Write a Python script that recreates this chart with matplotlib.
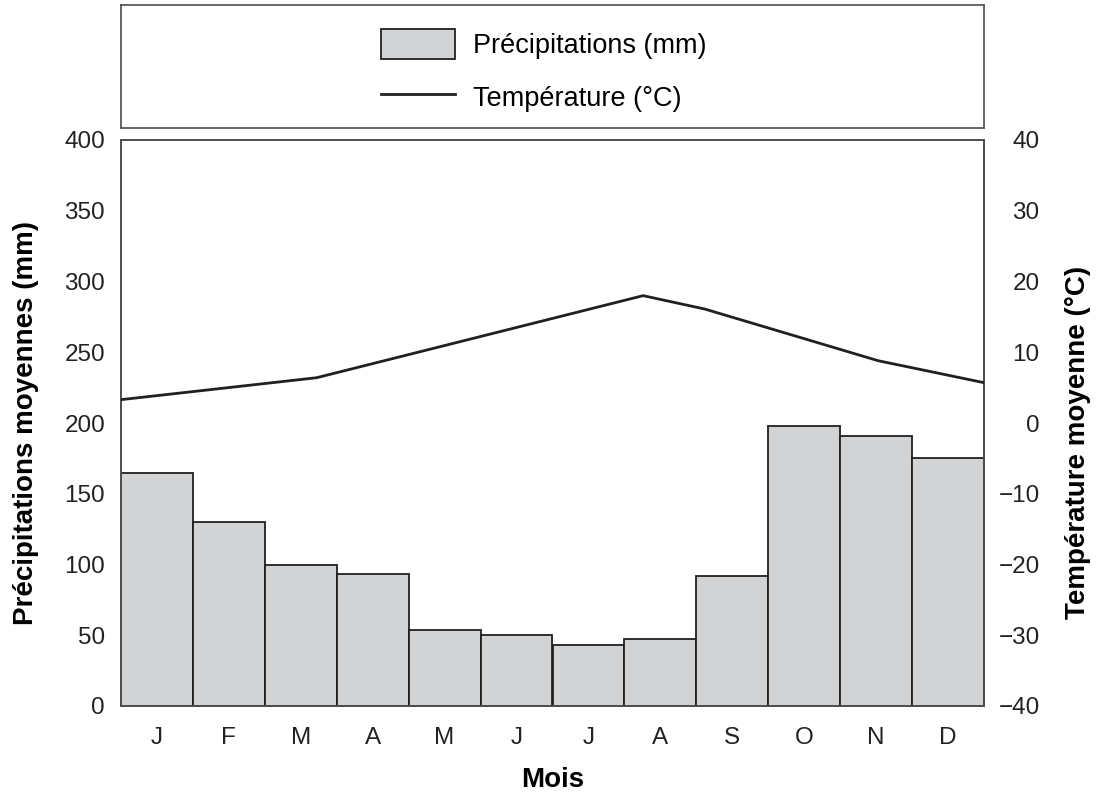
import matplotlib
matplotlib.use("Agg")
import matplotlib.pyplot as plt
from matplotlib.patches import Patch
from matplotlib.lines import Line2D
import numpy as np

months = ["J", "F", "M", "A", "M", "J", "J", "A", "S", "O", "N", "D"]
precip = [165, 130, 100, 93, 54, 50, 43, 47, 92, 198, 191, 175]
# temperature line vertices (position in month units, value in °C)
temp_x = [-0.5, 2.22, 6.76, 7.62, 10.03, 11.5]
temp_y = [3.3, 6.4, 18.0, 16.1, 8.8, 5.7]
left_ticks = [0, 50, 100, 150, 200, 250, 300, 350, 400]
right_ticks = [-40, -30, -20, -10, 0, 10, 20, 30, 40]

W, H = 1099, 797
plt.rcParams['font.family'] = ['Liberation Sans', 'DejaVu Sans']
fig = plt.figure(figsize=(W / 100, H / 100), dpi=100)

dark = "#231f20"
spine_c = "#4d4d4d"
tick_fs = 17.5
label_fs = 20

ax = fig.add_axes([121 / W, (H - 706) / H, (984 - 121) / W, (706 - 140) / H])
x = np.arange(len(months))
ax.bar(x, precip, width=1.0, color="#d1d3d4", edgecolor=dark, linewidth=1.3, zorder=2)
ax.set_xlim(-0.5, 11.5)
ax.set_ylim(0, 400)
ax.set_yticks(left_ticks)
ax.set_xticks(x)
ax.set_xticklabels(months)
ax.tick_params(axis='both', length=0, labelsize=tick_fs, colors="#222222")
ax.tick_params(axis='y', pad=11.5)
ax.tick_params(axis='x', pad=15)
for s in ax.spines.values():
    s.set_color(spine_c)
    s.set_linewidth(1.2)
ax.set_ylabel("Précipitations moyennes (mm)", fontsize=label_fs, fontweight='bold', labelpad=18)
ax.set_xlabel("Mois", fontsize=label_fs, fontweight='bold', labelpad=13)

ax2 = ax.twinx()
ax2.plot(temp_x, temp_y, color=dark, linewidth=2.0, zorder=3)
ax2.set_ylim(-40, 40)
ax2.set_yticks(right_ticks)
ax2.tick_params(axis='y', length=0, labelsize=tick_fs, colors="#222222", pad=40)
for lbl in ax2.get_yticklabels():
    lbl.set_horizontalalignment('right')
for s in ax2.spines.values():
    s.set_color(spine_c)
    s.set_linewidth(1.2)
ax2.set_ylabel("Température moyenne (°C)", fontsize=label_fs, fontweight='bold')
ax2.yaxis.set_label_coords((1078 - 121) / (984 - 121), (706 - 442) / 566)
ax2.yaxis.label.set_verticalalignment('center')

# legend box
axl = fig.add_axes([121 / W, (H - 128) / H, (984 - 121) / W, (128 - 5) / H])
axl.set_xticks([])
axl.set_yticks([])
for s in axl.spines.values():
    s.set_color(spine_c)
    s.set_linewidth(1.2)
handles = [Patch(facecolor="#d1d3d4", edgecolor=dark, linewidth=1.3),
           Line2D([0], [0], color=dark, linewidth=2.0)]
axl.legend(handles, ["Précipitations (mm)", "Température (°C)"], loc='center',
           bbox_to_anchor=(0.49, 0.465),
           frameon=False, fontsize=19.5, handlelength=2.7, handleheight=1.3,
           handletextpad=0.67, labelspacing=0.85)

fig.savefig("out.png", dpi=100)
